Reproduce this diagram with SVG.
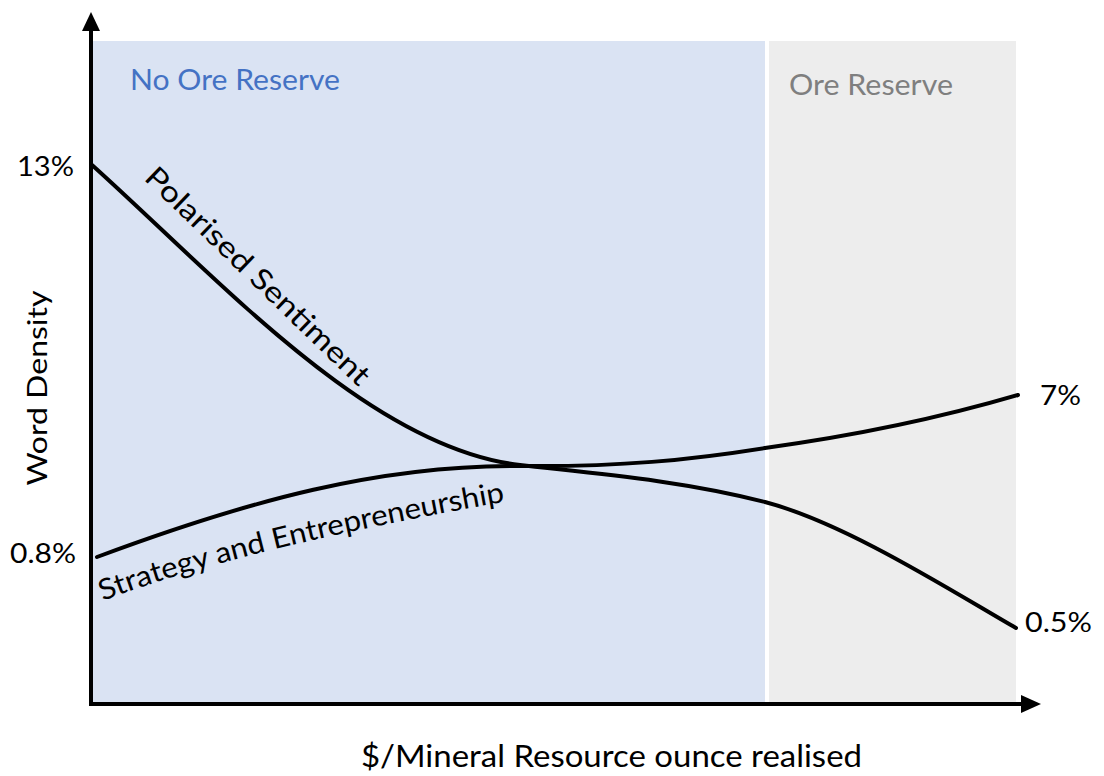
<svg xmlns="http://www.w3.org/2000/svg" width="1104" height="776" viewBox="0 0 1104 776">
  <style>
    .lbl { font-family: Lato, "Open Sans", "Liberation Sans", sans-serif; fill: #000; }
    .curve { fill: none; stroke: #000; stroke-width: 4; stroke-linecap: round; }
    .axis { fill: none; stroke: #000; stroke-width: 4; }
  </style>
  <defs>
    <path id="strategyBase" d="M103,601 Q240,548 515,500"/>
  </defs>
  <rect width="1104" height="776" fill="#fff"/>

  <!-- shaded regions -->
  <g id="region-no-reserve">
    <rect x="92" y="41" width="673" height="662" fill="#DAE3F3"/>
    <text class="lbl" x="130" y="90" font-size="29" style="fill:#4472C4" textLength="210" lengthAdjust="spacingAndGlyphs">No Ore Reserve</text>
  </g>
  <g id="region-reserve">
    <rect x="769" y="41" width="247" height="662" fill="#EDEDED"/>
    <text class="lbl" x="789" y="95" font-size="29" style="fill:#7F7F7F" textLength="164" lengthAdjust="spacingAndGlyphs">Ore Reserve</text>
  </g>

  <!-- axes -->
  <g id="axes">
    <line class="axis" x1="91" y1="706" x2="91" y2="28"/>
    <polygon points="91,12 82,31 100,31" fill="#000"/>
    <line class="axis" x1="89" y1="704" x2="1024" y2="704"/>
    <polygon points="1041,704 1021,695 1021,713" fill="#000"/>
    <text class="lbl" x="0" y="0" font-size="27" transform="translate(47,388) rotate(-90)" text-anchor="middle" textLength="195" lengthAdjust="spacingAndGlyphs">Word Density</text>
    <text class="lbl" x="361" y="767" font-size="30" textLength="501" lengthAdjust="spacingAndGlyphs">$/Mineral Resource ounce realised</text>
    <text class="lbl" x="17" y="176" font-size="27" textLength="57" lengthAdjust="spacingAndGlyphs">13%</text>
    <text class="lbl" x="10" y="563" font-size="27" textLength="66" lengthAdjust="spacingAndGlyphs">0.8%</text>
    <text class="lbl" x="1040" y="405" font-size="27" textLength="41" lengthAdjust="spacingAndGlyphs">7%</text>
    <text class="lbl" x="1025" y="632" font-size="27" textLength="67" lengthAdjust="spacingAndGlyphs">0.5%</text>
  </g>

  <!-- trend lines -->
  <g id="connectors">
    <path id="polarised" class="curve" d="M92,165 C220,280 370,448 520,465 C590,473 680,480 765,502 C845,523 950,590 1016,628"/>
    <path id="strategy" class="curve" d="M97,557 C250,500 380,465 520,466 C620,467 690,460 765,448 C860,435 950,415 1018,395"/>
  </g>

  <g id="label-polarised">
    <text class="lbl" x="0" y="0" font-size="29" transform="translate(143,179) rotate(44)" textLength="300" lengthAdjust="spacingAndGlyphs">Polarised Sentiment</text>
  </g>
  <g id="label-strategy">
    <text class="lbl" font-size="29"><textPath href="#strategyBase" textLength="415" lengthAdjust="spacingAndGlyphs">Strategy and Entrepreneurship</textPath></text>
  </g>
</svg>
